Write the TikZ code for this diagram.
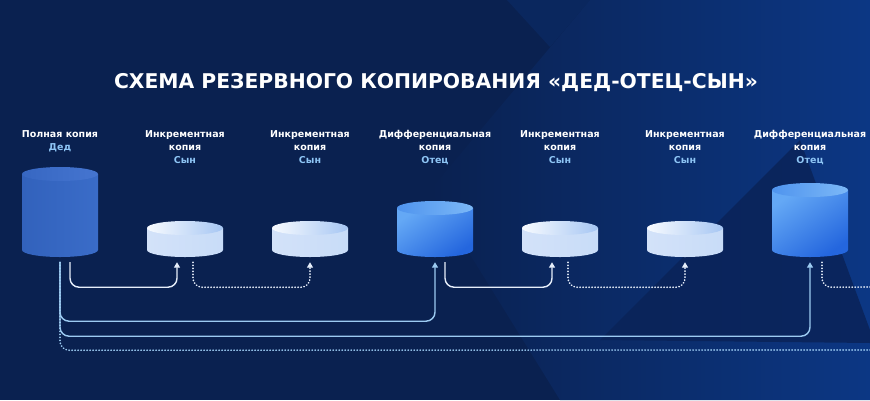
\documentclass[tikz,border=0pt]{standalone}
\usepackage{fontspec}
\setmainfont{DejaVu Sans}
\usetikzlibrary{arrows.meta,fit}

\definecolor{bgnavy}{HTML}{0A2150}
\definecolor{bgmid}{HTML}{0B2A64}
\definecolor{bgblue}{HTML}{0C3784}
\definecolor{bgdark}{HTML}{0A2358}
\definecolor{rolecol}{HTML}{8EC5F5}
\definecolor{linkwhite}{HTML}{E6EEFA}
\definecolor{linkblue}{HTML}{9CCBF2}
\definecolor{dedleft}{HTML}{3262BC}
\definecolor{dedmid}{HTML}{437BDA}
\definecolor{dedright}{HTML}{3A6CC8}
\definecolor{dedtopl}{HTML}{3767C2}
\definecolor{dedtopr}{HTML}{4575D0}
\definecolor{sonleft}{HTML}{D3E2F9}
\definecolor{sonmid}{HTML}{F2F7FE}
\definecolor{sonright}{HTML}{C8DCF8}
\definecolor{sontopl}{HTML}{F8FBFF}
\definecolor{sontopr}{HTML}{A6C6F3}
\definecolor{otectop}{HTML}{64A8F5}
\definecolor{otecbot}{HTML}{2466DE}
\definecolor{otectopl}{HTML}{4F94EE}
\definecolor{otectopr}{HTML}{7CB8F7}

% cylinder: name, x centre, top y, body look, top look
\newcommand{\backupdb}[5]{%
  \path[#4] (#2-38,#3+7) -- (#2-38,250)
    arc[start angle=180,end angle=0,x radius=38,y radius=7]
    -- (#2+38,#3+7) -- cycle;
  \path[#5] (#2,#3+7) ellipse[x radius=38,y radius=7];
  \node[fit={(#2-38,#3) (#2+38,257)},inner sep=0pt] (#1) {};
}

\begin{document}
\begin{tikzpicture}[x=1pt,y=-1pt,
    caption/.style={font=\bfseries\fontsize{9.5}{13}\selectfont,text=white,
      align=center,anchor=north,inner sep=0pt},
    link/.style={line width=1.4pt,rounded corners=9pt},
    tip/.style={-{Triangle[width=6pt,length=5.5pt]}},
    dots/.style={line width=1.6pt,line cap=round,dash pattern=on 0.4pt off 2.6pt},
    dedbody/.style={left color=dedleft,middle color=dedmid,right color=dedright},
    dedtop/.style={left color=dedtopl,right color=dedtopr},
    sonbody/.style={left color=sonleft,middle color=sonmid,right color=sonright},
    sontop/.style={left color=sontopl,right color=sontopr},
    otecbody/.style={top color=otectop,bottom color=otecbot,shading angle=35},
    otectop/.style={left color=otectopl,right color=otectopr},
  ]
  \useasboundingbox (0,0) rectangle (870,400);

  % background
  \fill[bgnavy] (0,0) rectangle (870,400);
  \shade[left color=bgnavy,right color=bgblue]
    (590,0) -- (870,0) -- (870,400) -- (560,400) -- (430,190) -- cycle;
  \fill[bgmid,opacity=.7] (507,0) -- (590,0) -- (550,47) -- cycle;
  \fill[bgdark,opacity=.85] (800,140) -- (600,340) -- (870,343) -- (870,330) -- cycle;

  % title
  \node[font=\bfseries\fontsize{20.3}{20.3}\selectfont,text=white,anchor=base,inner sep=0pt]
    (title) at (436,88) {СХЕМА РЕЗЕРВНОГО КОПИРОВАНИЯ «ДЕД-ОТЕЦ-СЫН»};

  % copies
  \backupdb{ded}{60}{167}{dedbody}{dedtop}
  \backupdb{son1}{185}{221}{sonbody}{sontop}
  \backupdb{son2}{310}{221}{sonbody}{sontop}
  \backupdb{otec1}{435}{201}{otecbody}{otectop}
  \backupdb{son3}{560}{221}{sonbody}{sontop}
  \backupdb{son4}{685}{221}{sonbody}{sontop}
  \backupdb{otec2}{810}{183}{otecbody}{otectop}

  % captions
  \node[caption] (ded-cap) at (60,130) {Полная копия\\\textcolor{rolecol}{Дед}};
  \node[caption] (son1-cap) at (185,130) {Инкрементная\\копия\\\textcolor{rolecol}{Сын}};
  \node[caption] (son2-cap) at (310,130) {Инкрементная\\копия\\\textcolor{rolecol}{Сын}};
  \node[caption] (otec1-cap) at (435,130) {Дифференциальная\\копия\\\textcolor{rolecol}{Отец}};
  \node[caption] (son3-cap) at (560,130) {Инкрементная\\копия\\\textcolor{rolecol}{Сын}};
  \node[caption] (son4-cap) at (685,130) {Инкрементная\\копия\\\textcolor{rolecol}{Сын}};
  \node[caption] (otec2-cap) at (810,130) {Дифференциальная\\копия\\\textcolor{rolecol}{Отец}};

  % links
  \coordinate (ded-out) at (875,350);
  \coordinate (otec2-out) at (875,287);
  \draw[link,linkblue,tip] ([yshift=-5pt]ded.south) -- ++(0,59) -| ([yshift=-5pt]otec1.south);
  \draw[link,linkblue,tip] ([yshift=-5pt]ded.south) -- ++(0,74) -| ([yshift=-5pt]otec2.south);
  \draw[link,linkblue,dots] ([yshift=-5pt]ded.south) -- ++(0,88) -- (ded-out);
  \draw[link,linkwhite,tip] ([xshift=10pt,yshift=-5pt]ded.south) -- ++(0,25) -| ([xshift=-8pt,yshift=-5pt]son1.south);
  \draw[link,linkwhite,dots,tip] ([xshift=8pt,yshift=-5pt]son1.south) -- ++(0,25) -| ([yshift=-5pt]son2.south);
  \draw[link,linkwhite,tip] ([xshift=10pt,yshift=-5pt]otec1.south) -- ++(0,25) -| ([xshift=-8pt,yshift=-5pt]son3.south);
  \draw[link,linkwhite,dots,tip] ([xshift=8pt,yshift=-5pt]son3.south) -- ++(0,25) -| ([yshift=-5pt]son4.south);
  \draw[link,linkwhite,dots] ([xshift=12pt,yshift=-5pt]otec2.south) -- ++(0,25) -- (otec2-out);
\end{tikzpicture}
\end{document}
